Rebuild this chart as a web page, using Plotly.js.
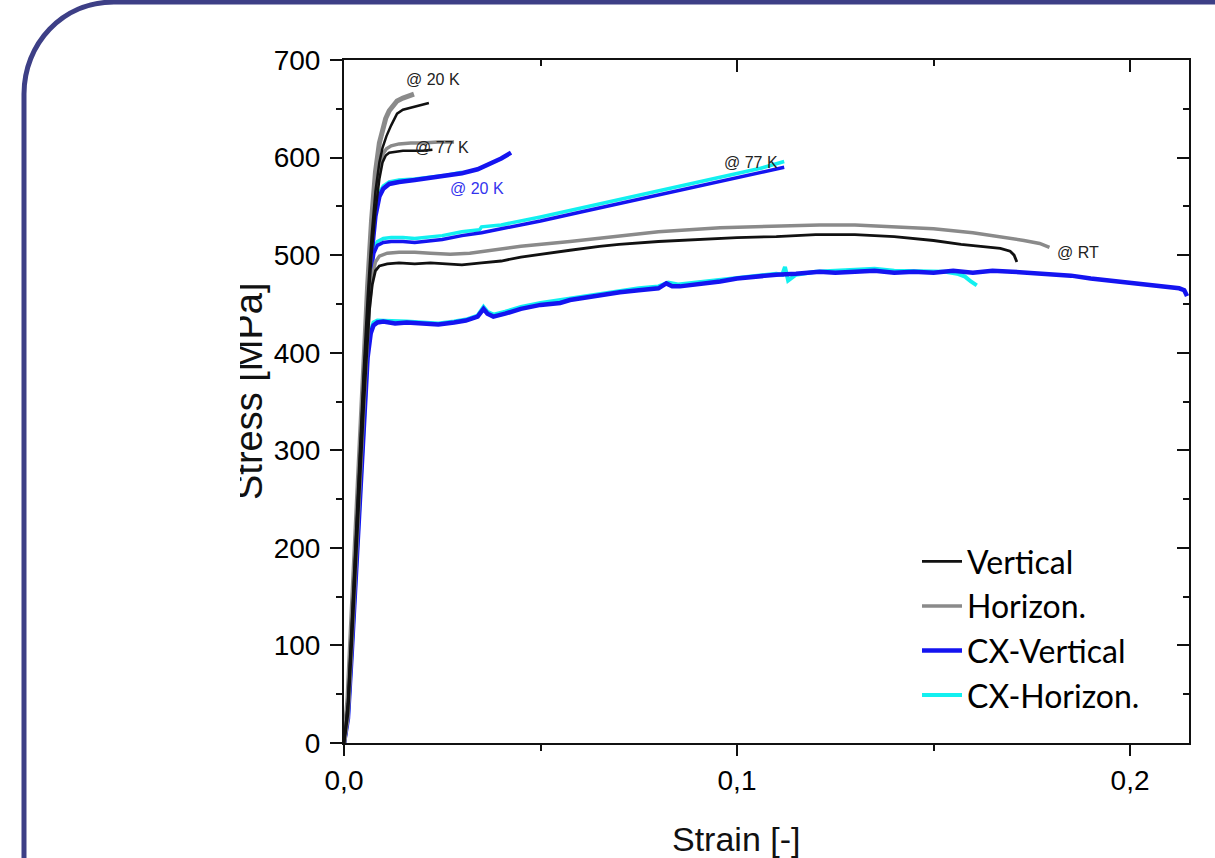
<!DOCTYPE html>
<html>
<head>
<meta charset="utf-8">
<script src="https://cdn.plot.ly/plotly-3.0.1.min.js"></script>
<style>html,body{margin:0;padding:0;background:#fff;}#chart{width:1215px;height:858px;}</style>
</head>
<body>
<div id="chart"></div>
<script>
// ---------------- DATA ----------------
const seriesNames = ['Vertical', 'Horizon.', 'CX-Vertical', 'CX-Horizon.'];
const tempLabels = ['@ 20 K', '@ 77 K', '@ 20 K', '@ 77 K', '@ RT'];
const xTitle = 'Strain [-]';
const yTitle = 'Stress [MPa]';

// Vertical @ RT
const vRT_x = [0, 0.001, 0.002, 0.003, 0.004, 0.005, 0.0058, 0.0065, 0.0072, 0.008, 0.009, 0.011, 0.014, 0.018, 0.022, 0.026, 0.03, 0.035, 0.04, 0.045, 0.05, 0.0575, 0.065, 0.07, 0.08, 0.09, 0.1, 0.11, 0.12, 0.13, 0.14, 0.15, 0.157, 0.162, 0.167, 0.1695, 0.1705, 0.1712];
const vRT_y = [0, 30, 105, 190, 270, 345, 400, 445, 470, 484, 489, 491, 492, 491, 492, 491, 490, 492, 494, 498, 501, 505, 509, 511, 514, 516, 518, 519, 521, 521, 519, 515, 511, 509, 507, 504, 500, 493];
// Horizon. @ RT
const hRT_x = [0, 0.001, 0.002, 0.003, 0.004, 0.005, 0.0058, 0.0065, 0.0072, 0.008, 0.009, 0.011, 0.014, 0.018, 0.022, 0.027, 0.032, 0.038, 0.045, 0.0575, 0.07, 0.08, 0.0957, 0.11, 0.121, 0.13, 0.1415, 0.15, 0.16, 0.167, 0.173, 0.177, 0.1795];
const hRT_y = [0, 25, 100, 185, 265, 340, 400, 450, 478, 493, 499, 502, 503, 503, 502, 501, 502, 505, 509, 514, 520, 524, 528, 530, 531, 531, 529, 527, 523, 519, 515, 512, 508];
// CX-Vertical @ RT
const cvRT_x = [0, 0.001, 0.002, 0.003, 0.004, 0.005, 0.006, 0.0068, 0.0075, 0.0085, 0.01, 0.013, 0.016, 0.02, 0.024, 0.028, 0.031, 0.034, 0.0355, 0.0365, 0.038, 0.041, 0.045, 0.05, 0.055, 0.0575, 0.062, 0.066, 0.0702, 0.075, 0.08, 0.082, 0.0835, 0.0855, 0.09, 0.0957, 0.1, 0.106, 0.11, 0.115, 0.121, 0.125, 0.13, 0.135, 0.14, 0.145, 0.15, 0.155, 0.16, 0.165, 0.17, 0.175, 0.18, 0.185, 0.19, 0.195, 0.2, 0.205, 0.21, 0.2125, 0.2138, 0.2145];
const cvRT_y = [0, 25, 95, 175, 255, 330, 395, 420, 428, 431, 432, 430, 431, 430, 429, 431, 433, 437, 445, 440, 437, 440, 445, 449, 451, 454, 457, 459, 462, 464, 466, 471, 468, 468, 470, 473, 476, 479, 480, 481, 483, 482, 483, 484, 482, 483, 482, 484, 482, 484, 483, 482, 480, 479, 476, 474, 472, 470, 468, 466, 464, 458];
// CX-Horizon. @ RT
const chRT_x = [0, 0.001, 0.002, 0.003, 0.004, 0.005, 0.006, 0.0068, 0.0075, 0.0085, 0.01, 0.013, 0.016, 0.02, 0.024, 0.028, 0.031, 0.034, 0.0355, 0.0365, 0.038, 0.041, 0.045, 0.05, 0.055, 0.06, 0.065, 0.07, 0.075, 0.08, 0.0825, 0.085, 0.09, 0.095, 0.1, 0.105, 0.11, 0.1115, 0.1122, 0.113, 0.115, 0.12, 0.125, 0.13, 0.135, 0.14, 0.145, 0.15, 0.153, 0.156, 0.158, 0.1595, 0.161];
const chRT_y = [0, 28, 100, 180, 260, 335, 400, 423, 431, 433, 433, 432, 432, 431, 430, 432, 434, 438, 447, 442, 439, 442, 447, 451, 454, 458, 461, 463, 466, 468, 472, 470, 472, 475, 477, 479, 481, 480, 488, 474, 480, 483, 484, 485, 486, 484, 484, 484, 483, 481, 478, 473, 469];
// Vertical @ 77 K
const v77_x = [0, 0.001, 0.002, 0.003, 0.004, 0.005, 0.006, 0.007, 0.008, 0.009, 0.0098, 0.0106, 0.0115, 0.013, 0.015, 0.018, 0.02, 0.0225];
const v77_y = [0, 40, 120, 205, 290, 370, 440, 500, 545, 578, 595, 602, 605, 606, 607, 607, 607, 608];
// Horizon. @ 77 K
const h77_x = [0, 0.001, 0.002, 0.003, 0.004, 0.005, 0.006, 0.007, 0.008, 0.009, 0.0098, 0.0108, 0.012, 0.014, 0.017, 0.02, 0.024, 0.028];
const h77_y = [0, 42, 125, 210, 295, 375, 447, 508, 555, 588, 603, 609, 612, 614, 615, 615, 616, 616];
// CX-Vertical @ 77 K
const cv77_x = [0, 0.001, 0.002, 0.003, 0.004, 0.005, 0.006, 0.0068, 0.0076, 0.0085, 0.01, 0.012, 0.015, 0.018, 0.021, 0.025, 0.03, 0.035, 0.04, 0.05, 0.06, 0.07, 0.08, 0.09, 0.1, 0.106, 0.112];
const cv77_y = [0, 30, 105, 190, 275, 355, 430, 480, 502, 510, 513, 514, 514, 513, 514, 516, 520, 523, 527, 535, 544, 553, 562, 571, 580, 585, 590];
// CX-Horizon. @ 77 K
const ch77_x = [0, 0.001, 0.002, 0.003, 0.004, 0.005, 0.006, 0.0068, 0.0076, 0.0085, 0.01, 0.012, 0.015, 0.018, 0.021, 0.025, 0.03, 0.0345, 0.035, 0.04, 0.05, 0.06, 0.07, 0.08, 0.09, 0.1, 0.106, 0.112];
const ch77_y = [0, 32, 108, 194, 279, 360, 436, 486, 507, 514, 517, 518, 518, 517, 518, 520, 524, 526, 529, 531, 539, 548, 557, 566, 575, 584, 589, 596];
// Vertical @ 20 K
const v20_x = [0, 0.001, 0.002, 0.003, 0.004, 0.005, 0.006, 0.007, 0.008, 0.009, 0.0098, 0.0108, 0.012, 0.0135, 0.015, 0.017, 0.019, 0.0216];
const v20_y = [0, 42, 125, 212, 298, 380, 455, 518, 565, 595, 610, 622, 633, 645, 649, 651, 653, 656];
// Horizon. @ 20 K
const h20_x = [0, 0.001, 0.002, 0.003, 0.004, 0.005, 0.006, 0.007, 0.008, 0.009, 0.0098, 0.0106, 0.0115, 0.0125, 0.0135, 0.015, 0.0165, 0.0178];
const h20_y = [0, 45, 130, 218, 305, 390, 468, 535, 585, 615, 630, 640, 648, 654, 658, 661, 663, 665];
// CX-Vertical @ 20 K
const cv20_x = [0, 0.001, 0.002, 0.003, 0.004, 0.005, 0.006, 0.007, 0.008, 0.009, 0.01, 0.0115, 0.014, 0.018, 0.022, 0.026, 0.03, 0.034, 0.037, 0.04, 0.0425];
const cv20_y = [0, 35, 112, 198, 283, 365, 440, 500, 540, 560, 568, 573, 575, 577, 579, 581, 584, 588, 593, 599, 605];
// CX-Horizon. @ 20 K
const ch20_x = [0, 0.001, 0.002, 0.003, 0.004, 0.005, 0.006, 0.007, 0.008, 0.009, 0.01, 0.0115, 0.014, 0.018, 0.022, 0.026, 0.03];
const ch20_y = [0, 37, 115, 201, 286, 368, 444, 504, 544, 564, 571, 575, 577, 578, 580, 582, 585];

// ---------------- STYLE ----------------
const FONT = 'Liberation Sans, Arial, Helvetica, sans-serif';
const colBlack = '#111111', colGray = '#8a8a8a', colBlue = '#1414f0', colCyan = '#12f0f0';

function tr(x, y, name, color, width, rank, show) {
  return {
    type: 'scatter', mode: 'lines', x: x, y: y, name: name,
    legendgroup: name, showlegend: show, legendrank: rank,
    line: {color: color, width: width}, hoverinfo: 'skip'
  };
}

const traces = [
  tr(chRT_x, chRT_y, seriesNames[3], colCyan, 4, 4, true),
  tr(ch77_x, ch77_y, seriesNames[3], colCyan, 3.5, 4, false),
  tr(ch20_x, ch20_y, seriesNames[3], colCyan, 3.5, 4, false),
  tr(cvRT_x, cvRT_y, seriesNames[2], colBlue, 4.5, 3, true),
  tr(cv77_x, cv77_y, seriesNames[2], colBlue, 3.5, 3, false),
  tr(cv20_x, cv20_y, seriesNames[2], colBlue, 4.5, 3, false),
  tr(hRT_x, hRT_y, seriesNames[1], colGray, 3.5, 2, true),
  tr(h77_x, h77_y, seriesNames[1], colGray, 3.5, 2, false),
  tr(h20_x, h20_y, seriesNames[1], colGray, 5, 2, false),
  tr(vRT_x, vRT_y, seriesNames[0], colBlack, 2.8, 1, true),
  tr(v77_x, v77_y, seriesNames[0], colBlack, 2.5, 1, false),
  tr(v20_x, v20_y, seriesNames[0], colBlack, 2.5, 1, false)
];
// hidden trace carrying the mirrored top / right axes
traces.push({type: 'scatter', mode: 'lines', x: [0], y: [0], xaxis: 'x2', yaxis: 'y2',
  showlegend: false, hoverinfo: 'skip', line: {color: 'rgba(0,0,0,0)'}});

// pixel -> paper helpers (plot area: x 344..1189, y 60..743)
const L = 344, R = 1189, T = 60, B = 743;
const px = X => (X - L) / (R - L);
const py = Y => (B - Y) / (B - T);

const tickFont = {family: FONT, size: 28, color: '#000'};
const axisCommon = {
  showgrid: false, zeroline: false, showline: true, linecolor: '#111', linewidth: 2,
  tickcolor: '#111', tickwidth: 2, fixedrange: true
};

const lblFont = {family: FONT, size: 16, color: '#222'};
const annotations = [
  {x: 0.0227, y: 680, text: tempLabels[0], font: lblFont},
  {x: 0.0250, y: 610, text: tempLabels[1], font: lblFont},
  {x: 0.0338, y: 568, text: tempLabels[2], font: {family: FONT, size: 16, color: '#3333ee'}},
  {x: 0.1036, y: 595, text: tempLabels[3], font: lblFont},
  {x: 0.1868, y: 503, text: tempLabels[4], font: lblFont}
].map(a => Object.assign({xref: 'x', yref: 'y', showarrow: false, xanchor: 'center', yanchor: 'middle'}, a));

// axis titles
annotations.push({xref: 'paper', yref: 'paper', x: px(736), y: py(839), text: xTitle,
  showarrow: false, xanchor: 'center', yanchor: 'middle', font: {family: FONT, size: 34, color: '#111'}});
annotations.push({xref: 'paper', yref: 'paper', x: px(249), y: py(391), text: yTitle, textangle: -90,
  showarrow: false, xanchor: 'center', yanchor: 'middle', font: {family: FONT, size: 38, color: '#111'}});
// crop of the y title as in the reference picture
annotations.push({xref: 'paper', yref: 'paper', x: px(222), y: py(391), text: ' ', width: 36, height: 280,
  bgcolor: '#ffffff', borderpad: 0, borderwidth: 0, showarrow: false, xanchor: 'center', yanchor: 'middle'});

// slide frame (rounded corner)
function P(X, Y) { return px(X).toFixed(5) + ',' + py(Y).toFixed(5); }
const framePath = 'M' + P(24, 880) + ' L' + P(24, 94) + ' C' + P(24, 44) + ' ' + P(62, 2) + ' ' + P(114, 2) + ' L' + P(1230, 2);

const layout = {
  width: 1215, height: 858,
  margin: {l: L, r: 1215 - R, t: T, b: 858 - B, pad: 0, autoexpand: false},
  paper_bgcolor: '#ffffff', plot_bgcolor: '#ffffff',
  separators: ',.',
  font: {family: FONT, color: '#000'},
  xaxis: Object.assign({}, axisCommon, {
    range: [0, 0.215], tick0: 0, dtick: 0.1, tickformat: '.1f', ticks: 'outside', ticklen: 11,
    tickfont: tickFont, ticklabelstandoff: 0,
    minor: {dtick: 0.05, ticks: 'outside', ticklen: 6, tickwidth: 2, tickcolor: '#111', showgrid: false}
  }),
  yaxis: Object.assign({}, axisCommon, {
    range: [0, 700], tick0: 0, dtick: 100, ticks: 'outside', ticklen: 12,
    tickfont: tickFont, ticklabelstandoff: 4,
    minor: {dtick: 50, ticks: 'outside', ticklen: 6, tickwidth: 2, tickcolor: '#111', showgrid: false}
  }),
  xaxis2: Object.assign({}, axisCommon, {
    overlaying: 'x', side: 'top', anchor: 'y2', range: [0, 0.215], tick0: 0, dtick: 0.1,
    ticks: 'inside', ticklen: 12, showticklabels: false,
    minor: {dtick: 0.05, ticks: 'inside', ticklen: 6, tickwidth: 2, tickcolor: '#111', showgrid: false}
  }),
  yaxis2: Object.assign({}, axisCommon, {
    overlaying: 'y', side: 'right', anchor: 'x2', range: [0, 700], tick0: 0, dtick: 100,
    ticks: 'inside', ticklen: 12, showticklabels: false,
    minor: {dtick: 50, ticks: 'inside', ticklen: 6, tickwidth: 2, tickcolor: '#111', showgrid: false}
  }),
  showlegend: true,
  legend: {
    x: px(917), y: py(534), xanchor: 'left', yanchor: 'top',
    bgcolor: 'rgba(0,0,0,0)', borderwidth: 0,
    font: {family: 'Lato, Open Sans, sans-serif', size: 32, color: '#000'},
    itemwidth: 40, traceorder: 'normal', tracegroupgap: 0
  },
  annotations: annotations,
  shapes: [{type: 'path', xref: 'paper', yref: 'paper', path: framePath,
    line: {color: '#3d3f86', width: 5}, fillcolor: 'rgba(0,0,0,0)', layer: 'above'}]
};

Plotly.newPlot('chart', traces, layout, {staticPlot: true, displayModeBar: false});
</script>
</body>
</html>
